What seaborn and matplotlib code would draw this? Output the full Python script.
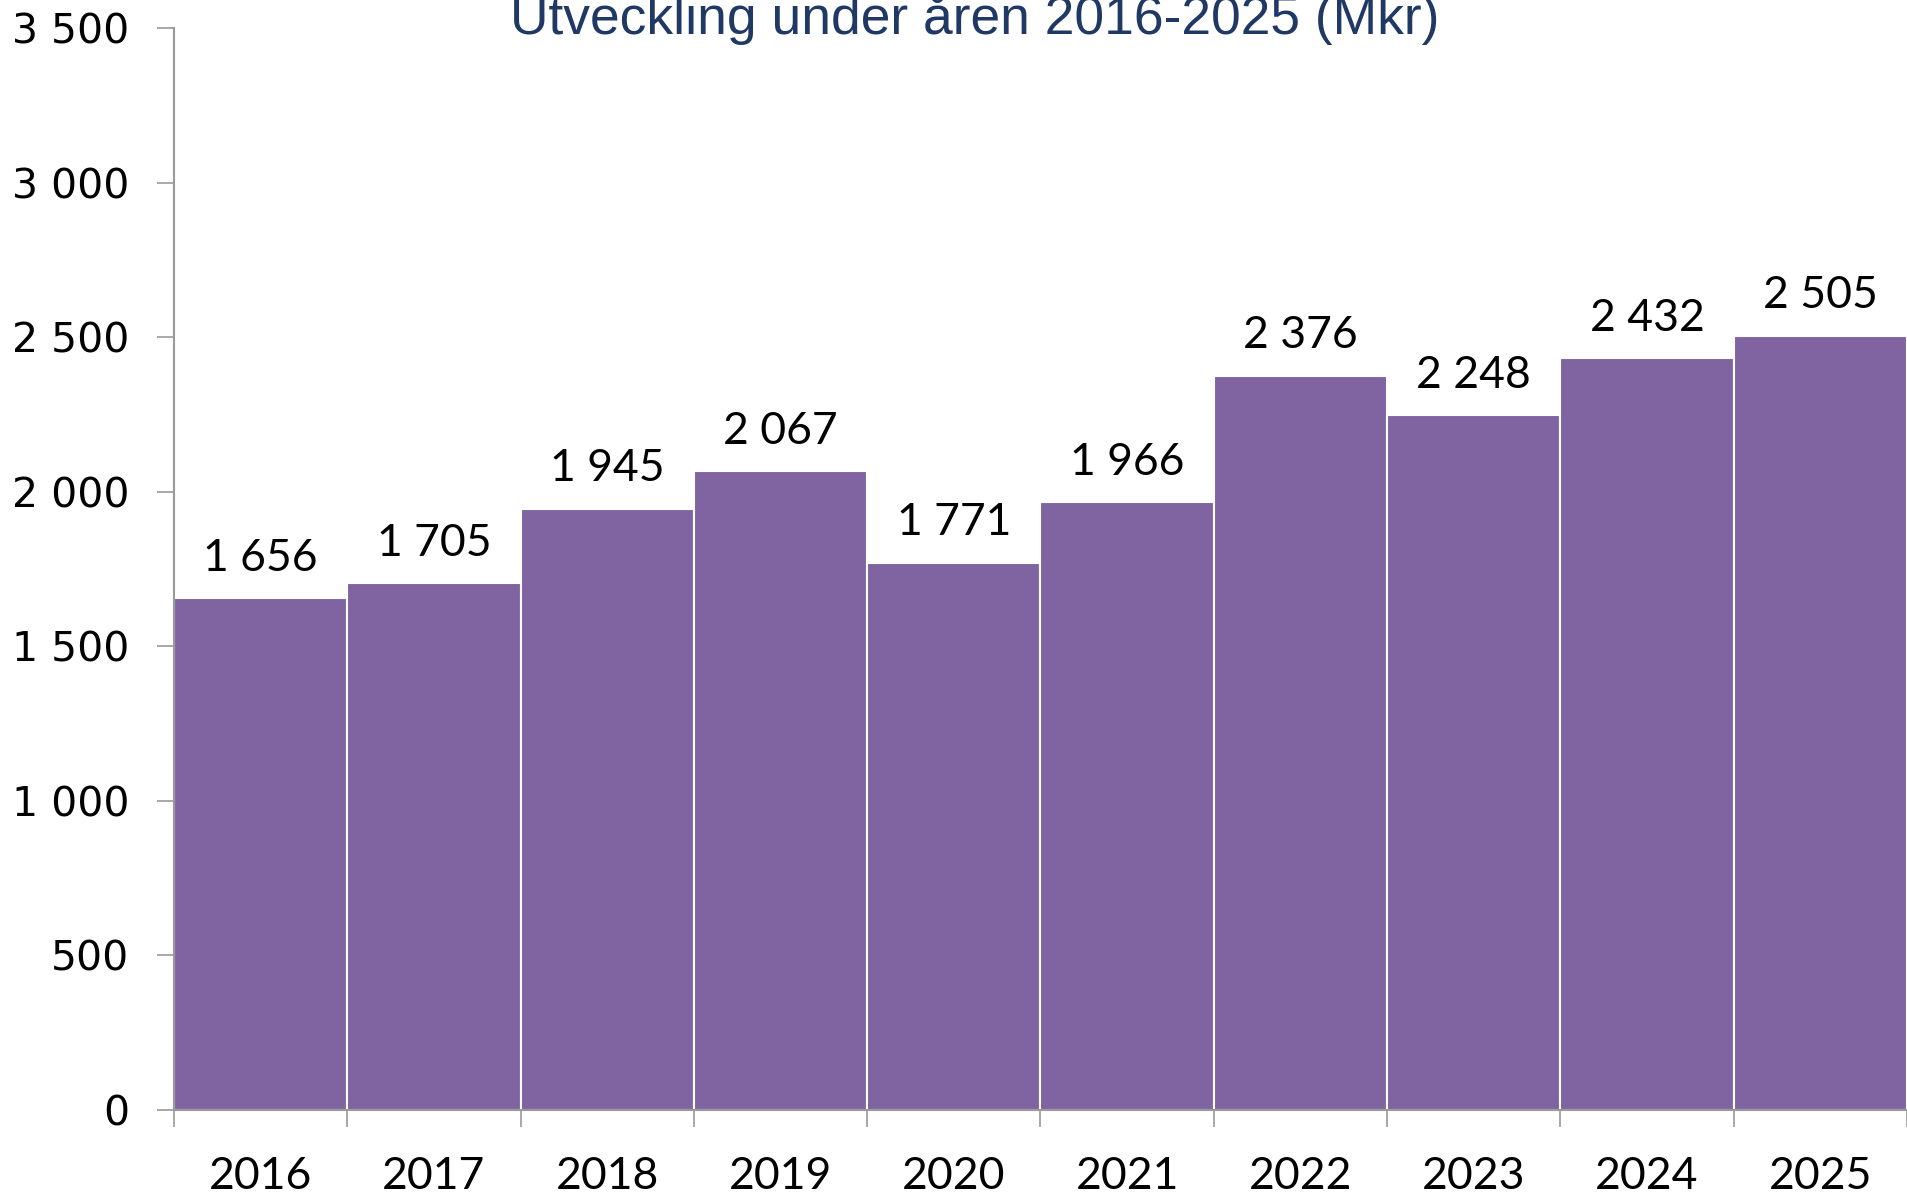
import pandas as pd
import numpy as np
import matplotlib
matplotlib.use('Agg')
import matplotlib.pyplot as plt
import seaborn as sns

# data
years = ['2016', '2017', '2018', '2019', '2020', '2021', '2022', '2023', '2024', '2025']
values = [1656, 1705, 1945, 2067, 1771, 1966, 2376, 2248, 2432, 2505]
y_ticks = [0, 500, 1000, 1500, 2000, 2500, 3000, 3500]

title = 'Utveckling under åren 2016-2025 (Mkr)'
bar_color = '#8064A2'
axis_grey = '#9A9A9A'

def sv(n):
    # swedish style thousands separator
    return f'{n:,}'.replace(',', ' ')

df = pd.DataFrame({'year': years, 'value': values})

sns.set_style('white')
plt.rcParams['font.family'] = ['Lato', 'DejaVu Sans']

fig = plt.figure(figsize=(19.07, 11.99), dpi=100)
ax = fig.add_axes([0.0912, 0.0742, 0.9088, 0.9024])

sns.barplot(data=df, x='year', y='value', color=bar_color, saturation=1,
            width=1.0, edgecolor='white', linewidth=1.5, ax=ax)

ax.set_ylim(0, 3500)
ax.set_xlim(-0.5, len(years) - 0.5)
ax.set_xlabel('')
ax.set_ylabel('')

# value labels above bars
for i, v in enumerate(values):
    ax.annotate(sv(v), (i, v), xytext=(0, 14), textcoords='offset points',
                ha='center', va='bottom', fontsize=32, color='black')

# y axis
ax.set_yticks(y_ticks)
ax.set_yticklabels([sv(t) for t in y_ticks], family='DejaVu Sans', fontsize=29.5, color='black')
ax.tick_params(axis='y', length=12, width=1.2, color=axis_grey, pad=20, left=True)

# x axis: labels at centres, tick marks at boundaries
ax.set_xticks(range(len(years)))
ax.set_xticklabels(years, fontsize=32, color='black')
ax.tick_params(axis='x', which='major', length=0, pad=33)
ax.set_xticks(np.arange(len(years) + 1) - 0.5, minor=True)
ax.tick_params(axis='x', which='minor', length=12, width=1.2, color=axis_grey, bottom=True)

for s in ['top', 'right']:
    ax.spines[s].set_visible(False)
for s in ['left', 'bottom']:
    ax.spines[s].set_color(axis_grey)
    ax.spines[s].set_linewidth(1.5)

fig.text(0.511, 0.972, title, ha='center', va='baseline', fontsize=38.4,
         color='#1F3864', family='Liberation Sans')

fig.savefig('out.png', dpi=100)
